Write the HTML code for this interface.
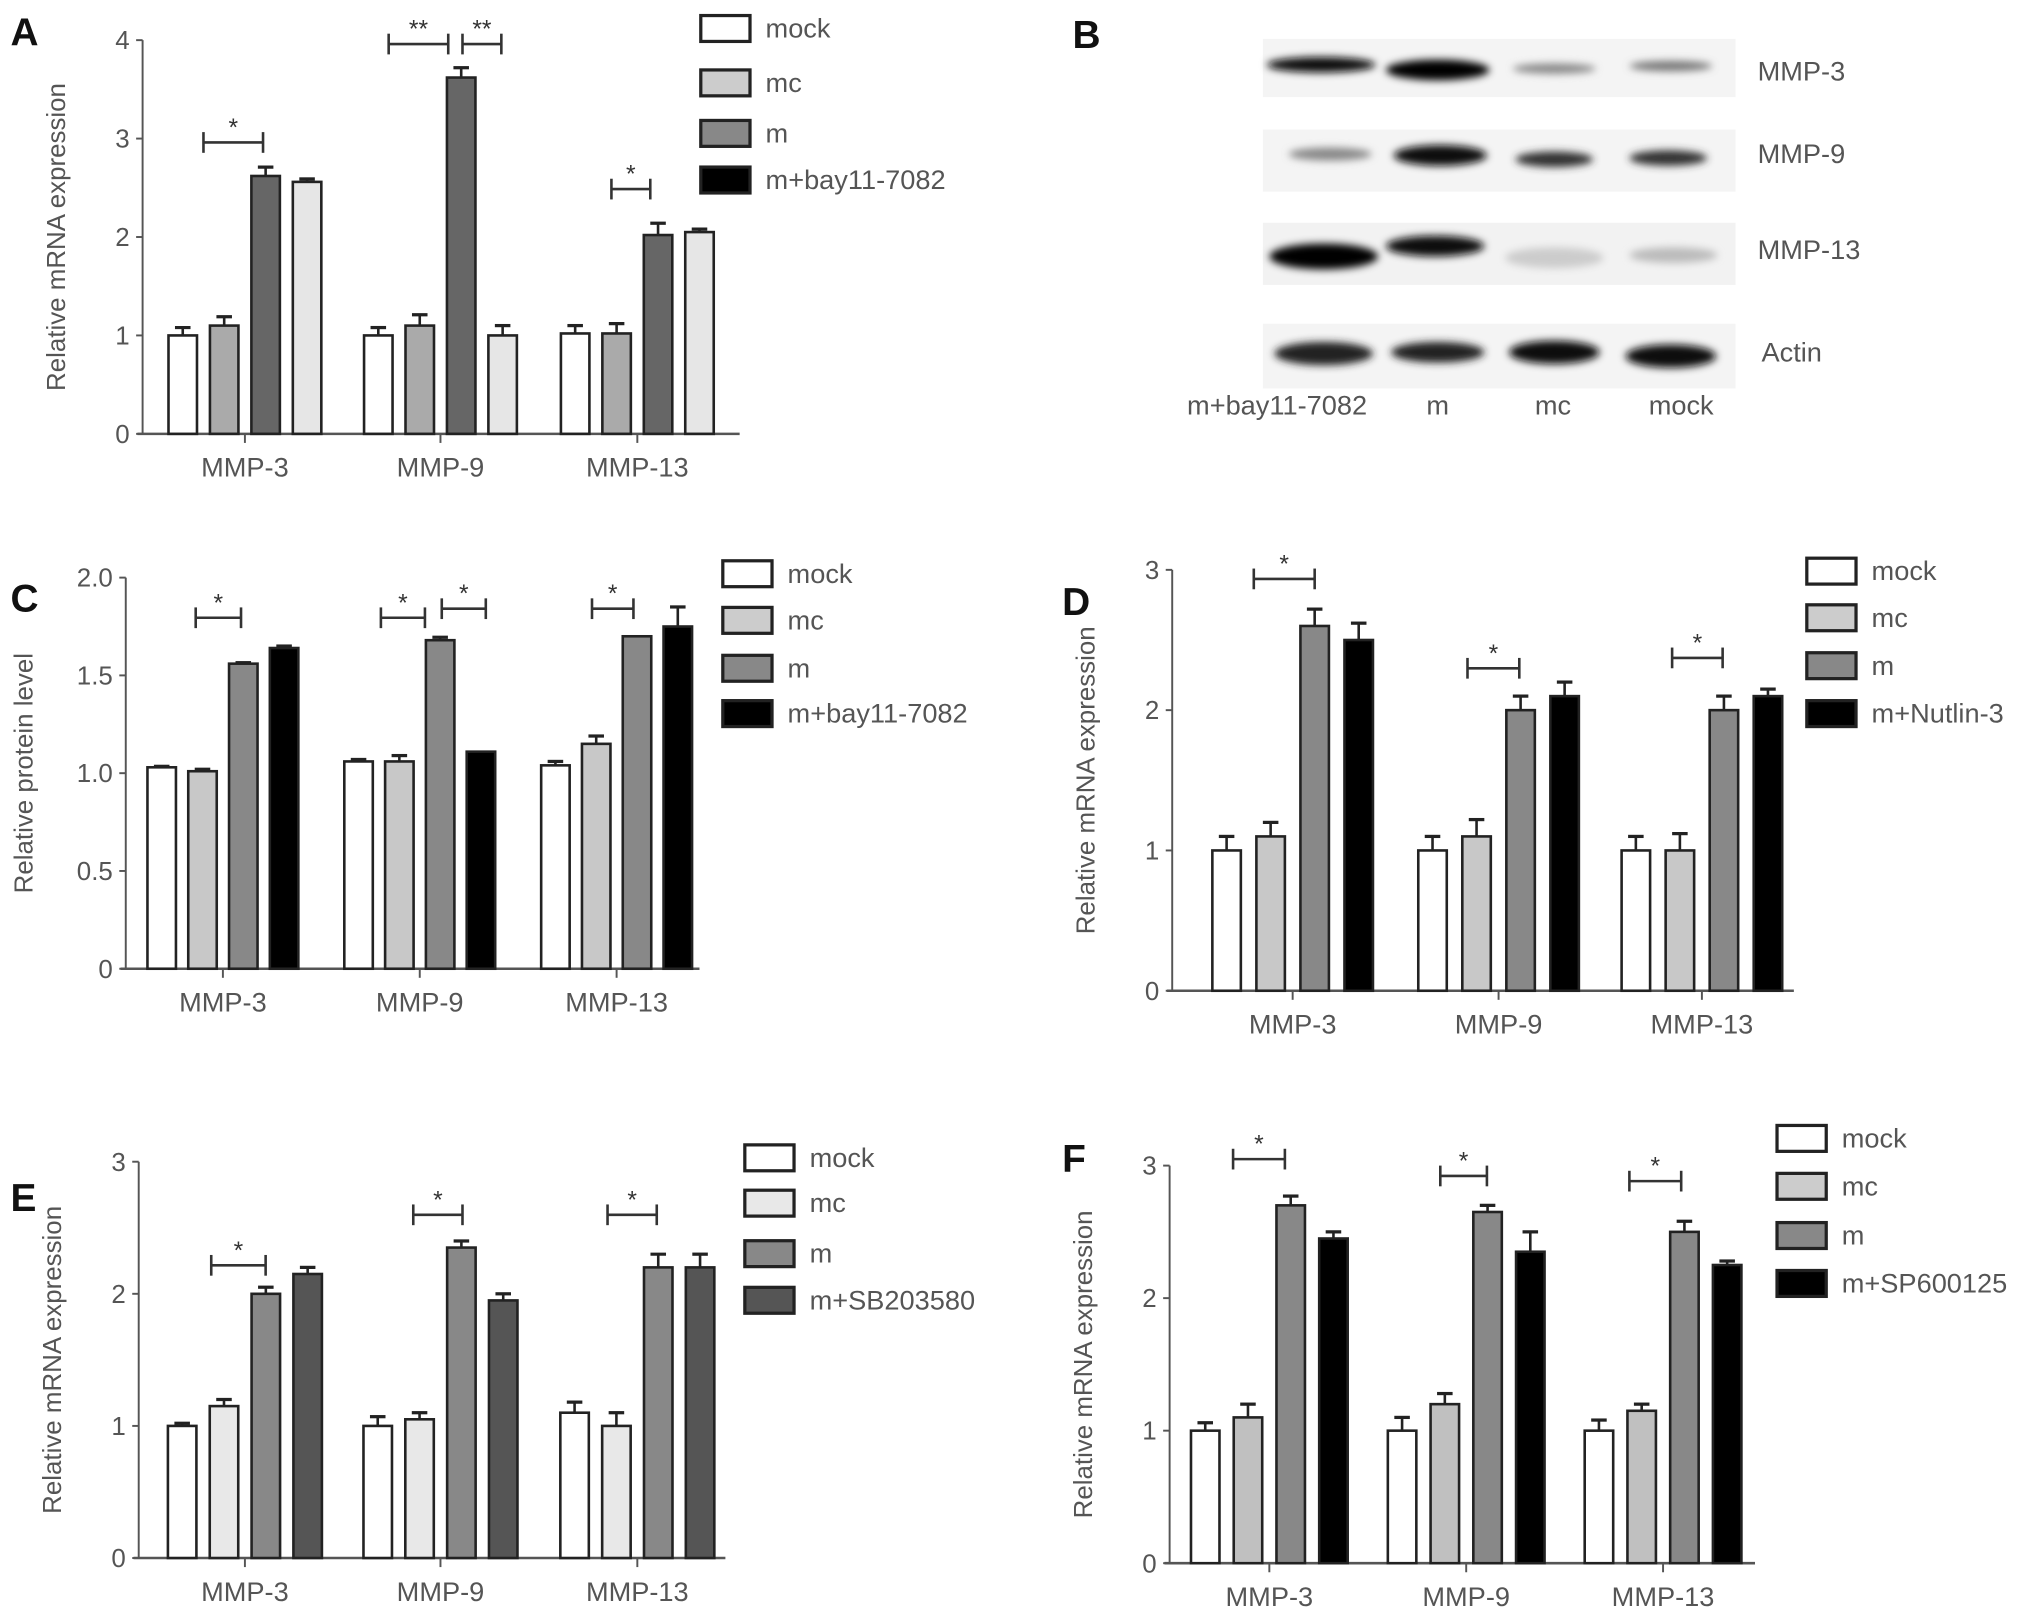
<!DOCTYPE html>
<html><head><meta charset="utf-8"><style>
html,body{margin:0;padding:0;background:#fff}
svg{display:block}
text{font-family:"Liberation Sans",sans-serif}
</style></head><body>
<svg id="fig" width="2031" height="1615" viewBox="0 0 1568 1247" xmlns="http://www.w3.org/2000/svg">
<defs><filter id="blur" x="-20%" y="-50%" width="140%" height="200%"><feGaussianBlur stdDeviation="3"/></filter></defs>
<text x="828" y="37" font-size="30" font-weight="bold" fill="#111">B</text>
<g>
<rect x="975" y="30" width="365" height="45" fill="#f4f4f4"/>
<rect x="975" y="100" width="365" height="48" fill="#f4f4f4"/>
<rect x="975" y="172" width="365" height="48" fill="#f2f2f2"/>
<rect x="975" y="250" width="365" height="50" fill="#f4f4f4"/>
<g filter="url(#blur)">
<ellipse cx="1020" cy="50" rx="42" ry="6" fill="#111"/><ellipse cx="1110" cy="54" rx="40" ry="8" fill="#000"/><ellipse cx="1200" cy="53" rx="32" ry="4" fill="#888"/><ellipse cx="1290" cy="51" rx="32" ry="4" fill="#777"/>
<ellipse cx="1027" cy="119" rx="32" ry="5" fill="#888"/><ellipse cx="1112" cy="120" rx="36" ry="8" fill="#111"/><ellipse cx="1200" cy="123" rx="30" ry="6" fill="#333"/><ellipse cx="1288" cy="122" rx="30" ry="6" fill="#333"/>
<ellipse cx="1022" cy="198" rx="42" ry="10" fill="#000"/><ellipse cx="1108" cy="190" rx="38" ry="8" fill="#111"/><ellipse cx="1200" cy="199" rx="38" ry="8" fill="#ccc"/><ellipse cx="1292" cy="197" rx="34" ry="6" fill="#bbb"/>
<ellipse cx="1022" cy="273" rx="38" ry="9" fill="#222"/><ellipse cx="1110" cy="272" rx="36" ry="8" fill="#222"/><ellipse cx="1200" cy="272" rx="35" ry="9" fill="#111"/><ellipse cx="1290" cy="275" rx="35" ry="9" fill="#111"/>
</g>
<g fill="#555" font-size="21">
<text x="1357" y="62">MMP-3</text>
<text x="1357" y="126">MMP-9</text>
<text x="1357" y="200">MMP-13</text>
<text x="1360" y="279">Actin</text>
<text x="986" y="320" text-anchor="middle">m+bay11-7082</text>
<text x="1110" y="320" text-anchor="middle">m</text>
<text x="1199" y="320" text-anchor="middle">mc</text>
<text x="1298" y="320" text-anchor="middle">mock</text>
</g></g>
</svg>
<script>
const NS="http://www.w3.org/2000/svg";
const svg=document.getElementById('fig');
const groups=["MMP-3","MMP-9","MMP-13"];
// Panel A
const seriesA=["mock","mc","m","m+bay11-7082"];
const valsA=[[1.0,1.1,2.62,2.56],[1.0,1.1,3.62,1.0],[1.02,1.02,2.02,2.05]];
const errA=[[0.08,0.09,0.09,0.03],[0.08,0.11,0.1,0.1],[0.08,0.1,0.12,0.03]];
const ticksA=["0","1","2","3","4"];
// Panel C
const seriesC=["mock","mc","m","m+bay11-7082"];
const valsC=[[1.03,1.01,1.56,1.64],[1.06,1.06,1.68,1.11],[1.04,1.15,1.7,1.75]];
const errC=[[0.005,0.01,0.005,0.01],[0.01,0.03,0.015,0],[0.02,0.04,0,0.1]];
const ticksC=["0","0.5","1.0","1.5","2.0"];
// Panel D
const seriesD=["mock","mc","m","m+Nutlin-3"];
const valsD=[[1,1.1,2.6,2.5],[1,1.1,2,2.1],[1,1,2,2.1]];
const errD=[[0.1,0.1,0.12,0.12],[0.1,0.12,0.1,0.1],[0.1,0.12,0.1,0.05]];
const ticksD=["0","1","2","3"];
// Panel E
const seriesE=["mock","mc","m","m+SB203580"];
const valsE=[[1,1.15,2,2.15],[1,1.05,2.35,1.95],[1.1,1,2.2,2.2]];
const errE=[[0.02,0.05,0.05,0.05],[0.07,0.05,0.05,0.05],[0.08,0.1,0.1,0.1]];
const ticksE=["0","1","2","3"];
// Panel F
const seriesF=["mock","mc","m","m+SP600125"];
const valsF=[[1,1.1,2.7,2.45],[1,1.2,2.65,2.35],[1,1.15,2.5,2.25]];
const errF=[[0.06,0.1,0.07,0.05],[0.1,0.08,0.05,0.15],[0.08,0.05,0.08,0.03]];
const ticksF=["0","1","2","3"];

function el(t,a,p){const e=document.createElementNS(NS,t);for(const k in a)e.setAttribute(k,a[k]);(p||svg).appendChild(e);return e;}

function panel(o){
  const g=el('g',{});
  
  
  const ymax=parseFloat(o.ticks[o.ticks.length-1]);
  const y=v=>o.y0-(v/ymax)*(o.y0-o.ytop);
  const L=el('text',{x:o.lx,y:o.ly,'font-size':30,'font-weight':'bold',fill:'#111'},g);L.textContent=o.id;
  
  
  el('line',{x1:o.ax,y1:o.ytop,x2:o.ax,y2:o.y0,stroke:'#555','stroke-width':1.5},g);
  el('line',{x1:o.ax-4,y1:o.y0,x2:o.axEnd,y2:o.y0,stroke:'#555','stroke-width':2},g);
  o.ticks.forEach(t=>{const yy=y(parseFloat(t));
    el('line',{x1:o.ax-5,y1:yy,x2:o.ax,y2:yy,stroke:'#555','stroke-width':1.5},g);
    const tx=el('text',{x:o.ax-10,y:yy+7,'text-anchor':'end','font-size':20,fill:'#555'},g);tx.textContent=t;
    
    });
  const yt=el('text',{transform:`translate(${o.ax-o.tOff},${(o.y0+o.ytop)/2}) rotate(-90)`,'text-anchor':'middle','font-size':20,fill:'#555'},g);
  yt.textContent=o.ytitle;
  
  
  groups.forEach((gn,gi)=>{const cx=o.centers[gi];
    el('line',{x1:cx,y1:o.y0,x2:cx,y2:o.y0+7,stroke:'#555','stroke-width':1.5},g);
    const xl=el('text',{x:cx,y:o.y0+33,'text-anchor':'middle','font-size':21,fill:'#555'},g);xl.textContent=gn;
    
    
    o.vals[gi].forEach((v,si)=>{const bx=cx+(si-1.5)*o.sp-11;
      const r=el('rect',{x:bx,y:y(v),width:22,height:o.y0-y(v),fill:o.colors[si],stroke:'#222','stroke-width':2},g);
      
      
      const e=o.err[gi][si];if(e>0){const ye=y(v+e);
        el('line',{x1:bx+11,y1:y(v),x2:bx+11,y2:ye,stroke:'#222','stroke-width':2},g);
        el('line',{x1:bx+5,y1:ye,x2:bx+17,y2:ye,stroke:'#222','stroke-width':2.5},g);}
    });});
  o.sig.forEach(s=>{el('line',{x1:s[0],y1:s[2],x2:s[1],y2:s[2],stroke:'#333','stroke-width':2},g);
    el('line',{x1:s[0],y1:s[2]-8,x2:s[0],y2:s[2]+8,stroke:'#333','stroke-width':2},g);
    el('line',{x1:s[1],y1:s[2]-8,x2:s[1],y2:s[2]+8,stroke:'#333','stroke-width':2},g);
    const st=el('text',{x:(s[0]+s[1])/2,y:s[2]-5,'text-anchor':'middle','font-size':19,fill:'#333'},g);st.textContent=s[3];
    
    });
  o.series.forEach((sn,i)=>{const ly=o.legY[i];
    const lg=el('g',{},g);
    
    
    el('rect',{x:o.legX,y:ly-9,width:38,height:20,fill:o.legColors[i],stroke:'#222','stroke-width':2.5},lg);
    const t=el('text',{x:o.legX+50,y:ly+8,'font-size':21,fill:'#555'},lg);t.textContent=sn;});
}
panel({id:'A',lx:8,ly:35,ax:110,y0:335,ytop:31,axEnd:571,tOff:60,ticks:ticksA,ytitle:'Relative mRNA expression',centers:[189,340,492],sp:32,vals:valsA,err:errA,
 colors:['#fff','#aaa','#666','#e6e6e6'],legColors:['#fff','#ccc','#888','#000'],series:seriesA,legX:541,legY:[21,63,102,138],
 sig:[[157,203,110,'*'],[300,346,34,'**'],[357,387,34,'**'],[472,502,146,'*']]});
panel({id:'C',lx:8,ly:472,ax:97,y0:748,ytop:446,axEnd:540,tOff:72,ticks:ticksC,ytitle:'Relative protein level',centers:[172,324,476],sp:31.5,vals:valsC,err:errC,
 colors:['#fff','#c8c8c8','#888','#000'],legColors:['#fff','#ccc','#888','#000'],series:seriesC,legX:558,legY:[442,478,515,550],
 sig:[[151,186,477,'*'],[294,328,477,'*'],[341,375,470,'*'],[457,489,470,'*']]});
panel({id:'D',lx:820,ly:475,ax:905,y0:765,ytop:440,axEnd:1385,tOff:60,ticks:ticksD,ytitle:'Relative mRNA expression',centers:[998,1157,1314],sp:34,vals:valsD,err:errD,
 colors:['#fff','#c8c8c8','#888','#000'],legColors:['#fff','#ccc','#888','#000'],series:seriesD,legX:1395,legY:[440,476,513,550],
 sig:[[968,1015,447,'*'],[1133,1173,516,'*'],[1291,1330,508,'*']]});
panel({id:'E',lx:8,ly:935,ax:107,y0:1203,ytop:897,axEnd:560,tOff:60,ticks:ticksE,ytitle:'Relative mRNA expression',centers:[189,340,492],sp:32.3,vals:valsE,err:errE,
 colors:['#fff','#e8e8e8','#888','#555'],legColors:['#fff','#e8e8e8','#888','#555'],series:seriesE,legX:575,legY:[893,928,967,1003],
 sig:[[163,205,977,'*'],[319,357,938,'*'],[469,507,938,'*']]});
panel({id:'F',lx:820,ly:905,ax:903,y0:1207,ytop:900,axEnd:1355,tOff:60,ticks:ticksF,ytitle:'Relative mRNA expression',centers:[980,1132,1284],sp:33,vals:valsF,err:errF,
 colors:['#fff','#c0c0c0','#888','#000'],legColors:['#fff','#ccc','#888','#000'],series:seriesF,legX:1372,legY:[878,915,953,990],
 sig:[[952,992,895,'*'],[1112,1148,908,'*'],[1258,1298,912,'*']]});
</script>
</body></html>
